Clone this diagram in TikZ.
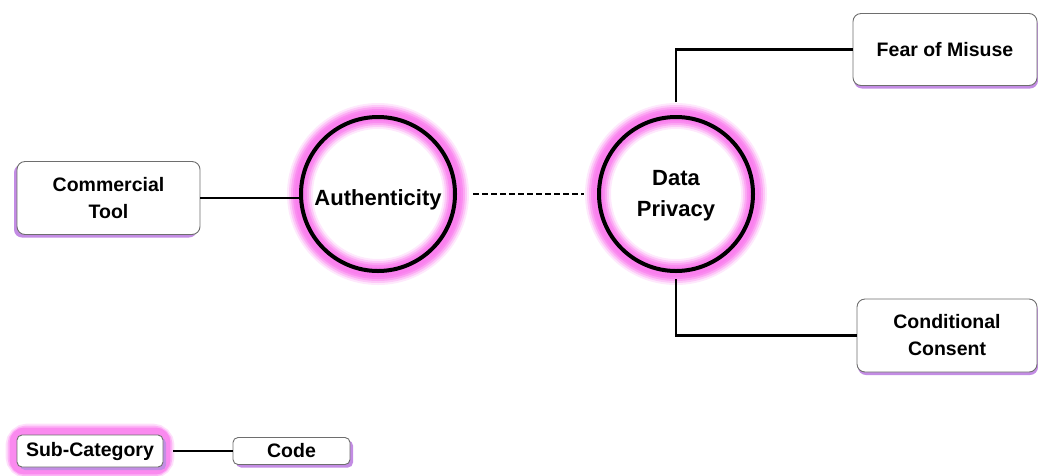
\documentclass[tikz,border=0pt]{standalone}
\usepackage{fontspec}
\setmainfont{Liberation Sans}
\usetikzlibrary{shadows,backgrounds}
\definecolor{glowpink}{RGB}{250,128,238}
\definecolor{shadepurple}{RGB}{195,140,228}
\definecolor{edgegray}{RGB}{110,110,110}
\tikzset{
  x=1pt, y=-1pt,
  codebox/.style={draw=edgegray, line width=0.9pt, rounded corners=8pt, fill=white,
    align=center, inner sep=0pt, font=\bfseries\fontsize{19.5}{27}\selectfont},
  shadeL/.style={drop shadow={shadow xshift=-3pt, shadow yshift=-3pt, fill=shadepurple, opacity=1}},
  shadeR/.style={drop shadow={shadow xshift=3pt, shadow yshift=-3pt, fill=shadepurple, opacity=1}},
  shadeB/.style={drop shadow={shadow xshift=1pt, shadow yshift=-3pt, fill=shadepurple, opacity=1}},
  category/.style={circle, draw=black, line width=4pt, minimum size=154pt, inner sep=0pt},
  cattext/.style={align=center, font=\bfseries\fontsize{22}{31}\selectfont},
  link/.style={draw=black, line width=2.5pt},
  glowring/.style={draw=glowpink, line width=#1},
}
\begin{document}
\begin{tikzpicture}
\useasboundingbox (0,0) rectangle (1038,475);

% main categories: ring plus its title
\node[category] (auth) at (378,194) {};
\node[cattext] (authtext) at (378,200) {Authenticity};
\node[category] (dp) at (676,194) {};
\node[cattext] (dptext) at (676,196) {Data\\Privacy};

% codes
\node[codebox, shadeL, minimum width=183pt, minimum height=73pt] (ct) at (108.5,198) {Commercial\\Tool};
\node[codebox, shadeB, minimum width=184pt, minimum height=72pt] (fm) at (945,49.5) {Fear of Misuse};
\node[codebox, shadeB, minimum width=180pt, minimum height=73pt] (cc) at (947,335.5) {Conditional\\Consent};

% legend
\node[codebox, shadeR, rounded corners=5pt, minimum width=146pt, minimum height=32pt] (lsc) at (90,451) {Sub-Category};
\node[codebox, shadeR, rounded corners=5pt, minimum width=117pt, minimum height=27pt] (lcode) at (291.5,451) {Code};

% pink halos behind the categories, built from stacked translucent rings
\begin{scope}[on background layer]
  \foreach \n in {auth,dp}{
    \foreach \w/\o in {26/0.18, 22/0.3, 18/0.45, 14/0.7, 10/1}{
      \draw[glowring=\w pt, opacity=\o] (\n.center) circle[radius=78pt];
    }
  }
  \foreach \w/\o/\r in {22/0.25/11, 18/0.45/10, 14/0.8/8}{
    \draw[glowring=\w pt, opacity=\o, rounded corners=\r pt] (lsc.south west) rectangle (lsc.north east);
  }
\end{scope}

% connectors
\draw[link] (ct.east) -- (ct.east -| auth.west);
\draw[link, dash pattern=on 6pt off 3pt, line width=2pt, shorten <=16pt, shorten >=13pt] (auth.east) -- (dp.west);
\draw[link, shorten <=13pt] (dp.north) |- (fm.west);
\draw[link, shorten <=6pt] (dp.south) |- (cc.west);
\draw[link, shorten <=10pt] (lsc.east) -- (lcode.west);
\end{tikzpicture}
\end{document}
